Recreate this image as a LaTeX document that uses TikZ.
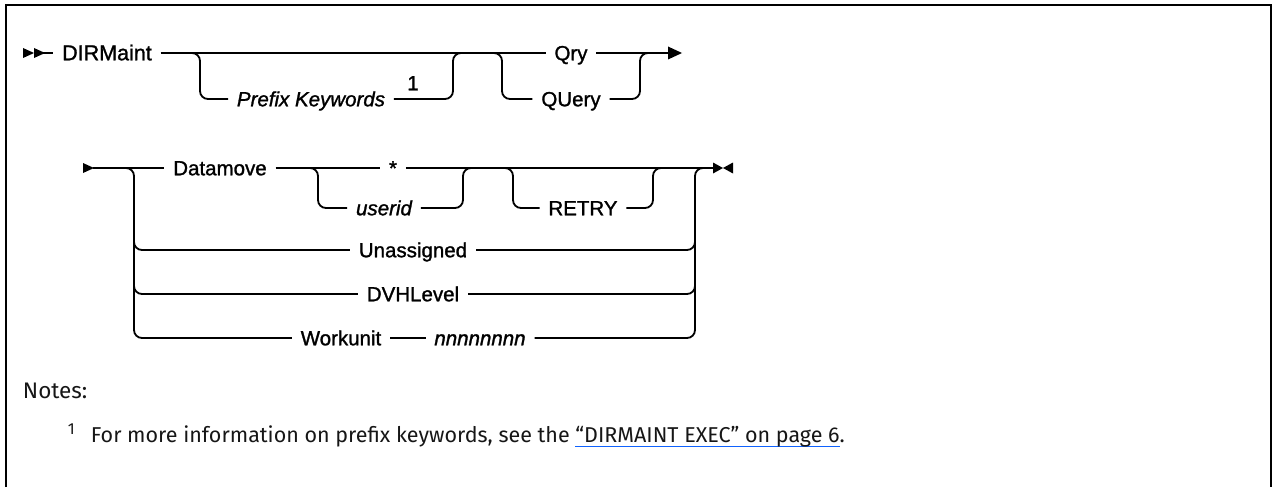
\documentclass[tikz,border=0pt]{standalone}
\usepackage{fontspec}
\setmainfont{Fira Sans}
\newfontfamily\railfont[FakeBold=1.3]{Liberation Sans}
\definecolor{linkblue}{RGB}{15,98,254}
\definecolor{ink}{RGB}{22,22,22}
\newcommand\mylink[1]{\setbox0\hbox{#1}\rlap{\color{linkblue}\rule[-5pt]{\wd0}{1.2pt}}\box0}
\begin{document}
\begin{tikzpicture}[x=1pt,y=-1pt,line width=1.8pt,
  rail/.style={line width=1.8pt,rounded corners=8pt},
  kw/.style={inner xsep=8pt,inner ysep=0pt,text height=14.5pt,text depth=0pt,font=\railfont\fontsize{20.5}{24}\selectfont},
  var/.style={kw,font=\railfont\fontsize{20.5}{24}\selectfont\itshape},
  tip/.style={fill=black,draw=none}]
\useasboundingbox (0,0) rectangle (1273,487);
% frame
\draw[line width=2.2pt] (6,487) -- (6,5) -- (1271,5) -- (1271,487);
% ---------- row 1 ----------
\node[kw,font=\railfont\fontsize{21.5}{24}\selectfont] (dirm) at (107,53) {DIRMaint};
\node[var] (pk) at (311,99) {Prefix Keywords};
\node[kw,inner xsep=0pt] (one) at (413,83) {1};
\node[kw] (qry) at (571,53) {Qry};
\node[kw] (query) at (571,99) {QUery};
\coordinate (s1) at (23,53);
\coordinate (e1) at (668,53);
\fill[tip] (s1) ++(0,-5) -- ++(11,5) -- ++(-11,5) -- cycle;
\fill[tip] (34,48) -- (45,53) -- (34,58) -- cycle;
\draw (43,53) -- (dirm.west);
\draw (dirm.east) -- (qry.west);
\draw (qry.east) -- (e1);
\fill[tip] (e1) ++(0,-6.5) -- ++(14,6.5) -- ++(-14,6.5) -- cycle;
\draw[rail] (190,53) -- (200,53) -- (200,99) -- (pk.west);
\draw[rail] (pk.east) -- (453,99) -- (453,53) -- (463,53);
\draw[rail] (492,53) -- (502,53) -- (502,99) -- (query.west);
\draw[rail] (query.east) -- (640,99) -- (640,53) -- (650,53);
% ---------- row 2 ----------
\node[kw] (datam) at (220,168) {Datamove};
\node[kw] (star) at (393,168) {*};
\node[var] (uid) at (384,208) {userid};
\node[kw] (retry) at (583,208) {RETRY};
\node[kw] (unas) at (413,250) {Unassigned};
\node[kw] (dvh) at (413,294) {DVHLevel};
\node[kw] (wu) at (341,338) {Workunit};
\node[var] (nn) at (480,338) {nnnnnnnn};
\coordinate (s2) at (83,168);
\coordinate (e2) at (713,168);
\fill[tip] (s2) ++(0,-5) -- ++(11,5) -- ++(-11,5) -- cycle;
\draw (93,168) -- (datam.west);
\draw (datam.east) -- (star.west);
\draw (star.east) -- (e2);
\fill[tip] (e2) ++(0,-5.5) -- ++(10,5.5) -- ++(-10,5.5) -- cycle;
\fill[tip] (733,162.5) -- (723,168) -- (733,173.5) -- cycle;
\draw[rail] (126,168) -- (134,168) -- (134,338) -- (wu.west);
\draw (wu.east) -- (nn.west);
\draw[rail] (nn.east) -- (695,338) -- (695,168) -- (705,168);
\draw[rail] (308,168) -- (318,168) -- (318,208) -- (uid.west);
\draw[rail] (uid.east) -- (463,208) -- (463,168) -- (473,168);
\draw[rail] (503,168) -- (513,168) -- (513,208) -- (retry.west);
\draw[rail] (retry.east) -- (653,208) -- (653,168) -- (663,168);
\draw[rail] (134,235) -- (134,250) -- (unas.west);
\draw[rail] (unas.east) -- (695,250) -- (695,235);
\draw[rail] (134,279) -- (134,294) -- (dvh.west);
\draw[rail] (dvh.east) -- (695,294) -- (695,279);
% ---------- notes ----------
\node[anchor=base west,inner sep=0pt,text=ink,font=\fontsize{22.5}{26}\selectfont] (notes) at (22,398) {Notes:};
\node[anchor=base west,inner sep=0pt,text=ink,font=\fontsize{16}{19}\selectfont] (fnum) at (67,434) {1};
\node[anchor=base west,inner sep=0pt,text=ink,font=\fontsize{21.5}{26}\selectfont] (fn) at (90,442)
  {For more information on prefix keywords, see the \mylink{“DIRMAINT EXEC” on page 6}.};
\end{tikzpicture}
\end{document}
